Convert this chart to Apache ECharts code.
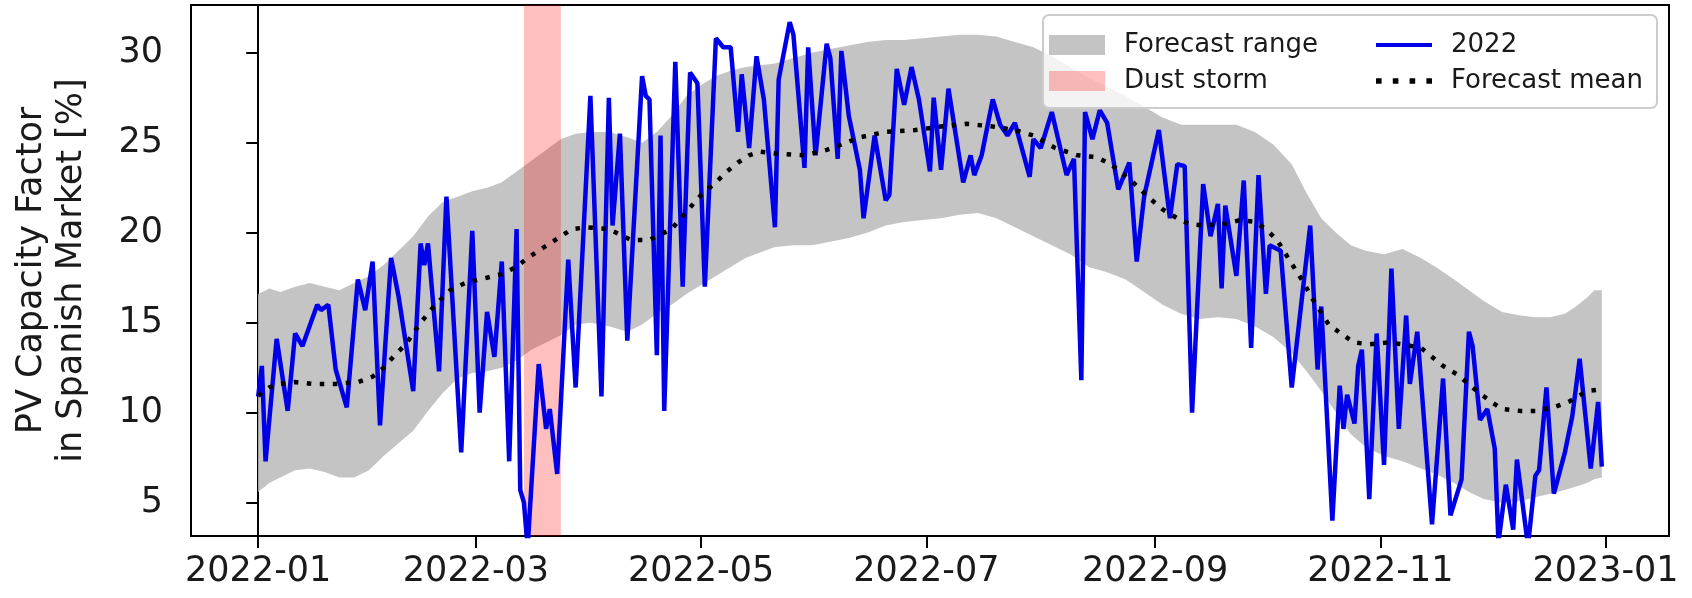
<!DOCTYPE html>
<html>
<head>
<meta charset="utf-8">
<script src="https://cdn.jsdelivr.net/npm/echarts@6/dist/echarts.min.js"></script>
<style>
html, body { margin: 0; padding: 0; background: #fff; }
#chart { width: 1692px; height: 598px; }
</style>
</head>
<body>
<div id="chart"></div>
<script>
// x is the day of 2022 (0 = 1 Jan)
var tickDays = [0, 59, 120, 181, 243, 304, 365];
var tickLabels = ['2022-01', '2022-03', '2022-05', '2022-07', '2022-09', '2022-11', '2023-01'];
var yTicks = [5, 10, 15, 20, 25, 30];
var stormDays = [72, 82];

var obsDays = [0, 1, 2, 5, 8, 10, 12, 16, 17, 19, 21, 24, 27, 29, 31, 33, 36, 38, 42, 44, 45, 46, 49, 51, 55, 58,
  60, 62, 64, 66, 68, 70, 71, 72, 73, 76, 78, 79, 81, 84, 86, 90, 93, 95, 96, 98, 100, 104, 105, 106, 108,
  109, 110, 113, 115, 117, 119, 121,
  124, 126, 128, 130, 131, 133, 135, 137, 140, 141, 144, 145, 148, 149, 151, 154, 155, 157, 158, 160, 163,
  164, 167, 170, 171, 173, 175, 177, 179, 182, 183, 185, 187,
  191, 193, 194, 196, 199, 201, 203, 205, 209, 210, 212, 215, 219, 221, 223, 224, 226, 228, 230, 233, 236,
  238, 240, 244, 247, 249, 251, 253, 256, 258, 260, 261, 262, 265, 267, 269, 271, 273,
  274, 277, 280, 285, 287, 288, 291, 293, 294, 295, 297, 298, 299, 301, 303, 305, 307, 309, 311, 312, 314,
  318, 321, 323, 326, 328, 329, 331, 333, 335, 336, 338, 340, 341, 344, 346, 347, 349, 351, 354, 356, 358,
  361, 363, 364];
var obsValues = [10.9, 12.6, 7.3, 14.1, 10.1, 14.4, 13.7, 16.0, 15.7, 16.0, 12.4, 10.3, 17.4, 15.7, 18.4, 9.3,
  18.6, 16.5, 11.2, 19.4, 18.2, 19.4, 12.3, 22.0, 7.8, 20.1,
  10.0, 15.6, 13.1, 18.4, 7.3, 20.2, 5.7, 5.0, 2.5, 12.7, 9.1, 10.2, 6.6, 18.5, 11.4, 27.6, 10.9, 27.5, 20.4,
  25.5, 14.0, 28.7, 27.6, 27.4, 13.2,
  25.4, 10.1, 29.5, 17.0, 28.9, 28.3, 17.0,
  30.8, 30.3, 30.3, 25.6, 28.8, 24.7, 29.8, 27.4, 20.3, 28.5, 31.7, 31.0, 23.6, 30.3, 24.3, 30.5, 29.7, 24.1,
  30.1, 26.5, 23.5,
  20.8, 25.4, 21.8, 22.1, 29.1, 27.1, 29.2, 27.4, 23.4, 27.5, 23.5, 28.0,
  22.8, 24.3, 23.2, 24.3, 27.4, 26.0, 25.4, 26.1, 23.1, 25.2, 24.7, 26.7, 23.2, 24.1, 11.8, 26.7, 25.2, 26.8,
  26.1, 22.4, 23.9,
  18.4, 22.0, 25.7, 20.8, 23.8, 23.7, 10.0, 22.7, 19.8, 21.6, 16.9, 21.5, 17.6, 22.9, 13.6, 23.2, 16.6,
  19.3, 19.0, 11.4, 20.4, 12.4, 15.9, 4.0, 11.5, 9.1, 11.0, 9.4, 12.6, 13.5, 5.2, 14.4, 7.1, 18.0, 9.1, 15.4,
  11.6, 14.5,
  3.8, 11.9, 4.3, 6.3, 14.5, 13.7, 9.6, 10.2, 8.0, 2.8, 6.0, 3.5, 7.4, 2.6, 6.5, 6.8, 11.4, 5.5, 7.8, 9.8, 13.0,
  6.9, 10.6, 7.0];

// forecast range
var bandDays = [0, 3, 6, 10, 14, 18, 22, 26, 30, 34, 38, 42, 46, 50, 54, 58, 62, 66, 70, 74, 78, 82, 86, 90,
  95, 100, 104, 108, 112, 116, 120, 124, 128, 132, 136, 140, 145, 150, 155, 160, 165, 170, 175, 180, 185,
  190, 195, 200, 205, 210, 215, 220, 225, 230, 235, 240, 245, 250, 255, 260, 265, 270, 275, 280, 284, 288,
  292, 296, 300, 305, 310, 315, 319, 324, 328, 332, 337, 342, 346, 350, 354, 357, 360, 362, 364];
var bandUpper = [16.6, 16.9, 16.7, 17.0, 17.2, 17.0, 16.8, 17.2, 17.6, 18.2, 19.0, 19.8, 20.9, 21.7, 22.0,
  22.3, 22.5, 22.8, 23.4, 24.0, 24.6, 25.2, 25.5, 25.6,
  25.6, 25.3, 25.0, 25.6, 26.5, 27.6, 28.2, 28.7, 29.0, 29.2, 29.3, 29.4, 29.7, 30.0, 30.2, 30.4, 30.6, 30.7,
  30.7, 30.8, 30.9,
  31.0, 31.0, 30.9, 30.6, 30.3, 29.8, 29.2, 28.6, 28.1, 27.6, 27.0, 26.4, 26.0, 26.0, 26.0, 26.0, 25.6, 24.9,
  23.8, 22.2, 20.8,
  20.0, 19.3, 19.0, 18.8, 19.1, 18.6, 18.1, 17.4, 16.8, 16.2, 15.6, 15.4, 15.3, 15.3, 15.5, 15.9, 16.4, 16.8,
  16.8];
var bandLower = [5.6, 6.1, 6.4, 6.8, 6.9, 6.7, 6.4, 6.4, 6.8, 7.6, 8.3, 9.0, 10.1, 11.1, 11.9, 12.2, 12.3,
  12.5, 12.9, 13.5, 13.9, 14.3, 14.9, 15.0,
  14.8, 14.5, 14.9, 15.5, 16.0, 16.6, 17.1, 17.6, 18.1, 18.6, 18.9, 19.2, 19.3, 19.3, 19.5, 19.7, 20.0, 20.4,
  20.6, 20.7, 20.8,
  21.0, 21.1, 20.8, 20.3, 19.8, 19.3, 18.8, 18.1, 17.8, 17.4, 16.7, 16.0, 15.5, 15.2, 15.3, 15.2, 14.8, 14.2,
  13.3, 12.3, 11.2,
  10.0, 8.8, 8.1, 7.6, 7.3, 6.9, 6.6, 6.1, 5.6, 5.2, 5.0, 5.1, 5.3, 5.5, 5.7, 5.9, 6.1, 6.3, 6.4];

// forecast mean
var meanDays = [0, 3, 6, 10, 15, 21, 27, 31, 34, 37, 40, 44, 48, 52, 56, 60, 66, 70, 73, 79, 82, 85, 89, 95,
  101, 106, 112, 117, 120, 124, 127, 130, 133, 136, 140, 148, 154, 158, 163, 170, 178, 185, 192, 199, 205,
  210, 216, 222, 227, 231, 237, 241, 245, 249, 252, 256, 262, 266, 270, 273, 276, 279, 283, 286, 290, 294,
  297, 301, 306, 310, 315, 318, 321, 325, 329, 334, 337, 342, 346, 351, 355, 360, 364];
var meanValues = [10.95, 11.4, 11.6, 11.7, 11.6, 11.6, 11.7, 12.0, 12.5, 13.2, 13.8, 15.0, 16.0, 16.8, 17.2,
  17.4, 17.7, 18.1, 18.6, 19.4, 19.8, 20.2, 20.3, 20.2,
  19.6, 19.6, 20.2, 21.4, 22.1, 22.8, 23.4, 23.9, 24.3, 24.5, 24.4, 24.3, 24.6, 24.9, 25.3, 25.6, 25.7, 25.9,
  26.05, 25.9, 25.7,
  25.4, 24.7, 24.3, 24.2, 23.8, 22.8, 22.0, 21.3, 20.8, 20.5, 20.4, 20.5, 20.7, 20.6, 20.2, 19.6, 18.6, 17.3,
  16.2, 14.9, 14.3,
  13.9, 13.8, 13.9, 13.8, 13.6, 13.1, 12.6, 12.1, 11.4, 10.6, 10.2, 10.1, 10.1, 10.3, 10.6, 11.2, 11.3];

function zip(xs, ys) {
  var out = [];
  for (var i = 0; i < xs.length; i++) out.push([xs[i], ys[i]]);
  return out;
}

var font = 'DejaVu Sans';
var bandColor = '#c4c4c4';
var stormColor = 'rgba(255,0,0,0.25)';
var lineIcon = 'path://M0,0H14V1H0Z';
var dotIcon = 'path://M0,0H1V1H0ZM3,0H4V1H3ZM6,0H7V1H6ZM9,0H10V1H9Z';

var myChart = echarts.init(document.getElementById('chart'));

option = {
  animation: false,
  grid: {
    left: 191, right: 23, top: 5, bottom: 62,
    show: true, borderColor: '#000', borderWidth: 2
  },
  xAxis: {
    type: 'value',
    min: -18.2,
    max: 382.2,
    splitLine: { show: false },
    axisLine: { show: true, onZero: false, lineStyle: { color: '#000', width: 2 } },
    axisTick: { show: true, length: 12, customValues: tickDays, lineStyle: { color: '#000', width: 2 } },
    axisLabel: {
      customValues: tickDays,
      margin: 18,
      fontSize: 35,
      fontFamily: font,
      color: '#1a1a1a',
      formatter: function (v) {
        var k = tickDays.indexOf(v);
        return k >= 0 ? tickLabels[k] : '';
      }
    }
  },
  yAxis: {
    type: 'value',
    min: 3.15,
    max: 32.65,
    name: 'PV Capacity Factor\nin Spanish Market [%]',
    nameLocation: 'middle',
    nameGap: 99,
    nameTextStyle: { fontSize: 35, lineHeight: 40, fontFamily: font, color: '#1a1a1a' },
    splitLine: { show: false },
    axisLine: { show: true, lineStyle: { color: '#000', width: 2 } },
    axisTick: { show: true, length: 12, customValues: yTicks, lineStyle: { color: '#000', width: 2 } },
    axisLabel: { customValues: yTicks, margin: 28, fontSize: 35, fontFamily: font, color: '#1a1a1a' }
  },
  legend: [
    {
      data: [{ name: 'Forecast range', icon: 'rect' }, { name: 'Dust storm', icon: 'rect' }],
      orient: 'vertical', left: 1049, top: 30, padding: 0, z: 10,
      itemWidth: 56, itemHeight: 20, itemGap: 6,
      textStyle: { fontSize: 26, lineHeight: 30, fontFamily: font, color: '#1a1a1a', padding: [0, 0, 0, 14] }
    },
    {
      data: [{ name: '2022', icon: lineIcon }, { name: 'Forecast mean', icon: dotIcon }],
      orient: 'vertical', left: 1376, top: 30, padding: 0, z: 10,
      itemWidth: 56, itemHeight: 20, itemGap: 6,
      textStyle: { fontSize: 26, lineHeight: 30, fontFamily: font, color: '#1a1a1a', padding: [0, 0, 0, 14] }
    }
  ],
  graphic: [{
    type: 'rect', z: 9,
    shape: { x: 1043, y: 15, width: 614, height: 93, r: 6 },
    style: { fill: 'rgba(255,255,255,0.8)', stroke: '#cccccc', lineWidth: 2 }
  }],
  series: [
    {
      name: 'Forecast range', type: 'custom', z: 1,
      color: bandColor,
      itemStyle: { color: bandColor },
      data: [[bandDays[0], bandLower[0]]],
      renderItem: function (params, api) {
        var pts = [];
        for (var i = 0; i < bandDays.length; i++) pts.push(api.coord([bandDays[i], bandUpper[i]]));
        for (var j = bandDays.length - 1; j >= 0; j--) pts.push(api.coord([bandDays[j], bandLower[j]]));
        return { type: 'polygon', shape: { points: pts }, style: { fill: bandColor } };
      }
    },
    {
      name: 'Dust storm', type: 'line', z: 2,
      data: [],
      color: stormColor,
      markArea: {
        z: 2,
        silent: true,
        itemStyle: { color: stormColor },
        data: [[{ xAxis: stormDays[0] }, { xAxis: stormDays[1] }]]
      }
    },
    {
      name: '2022', type: 'line', z: 3,
      data: zip(obsDays, obsValues),
      color: '#0000e8',
      symbol: 'none', clip: true,
      lineStyle: { color: '#0000e8', width: 4.5 }
    },
    {
      name: 'Forecast mean', type: 'line', z: 4,
      data: zip(meanDays, meanValues),
      color: '#000',
      symbol: 'none',
      lineStyle: { color: '#000', width: 4.5, type: [4.5, 8.5], cap: 'butt' }
    }
  ]
};

myChart.setOption(option);
</script>
</body>
</html>
